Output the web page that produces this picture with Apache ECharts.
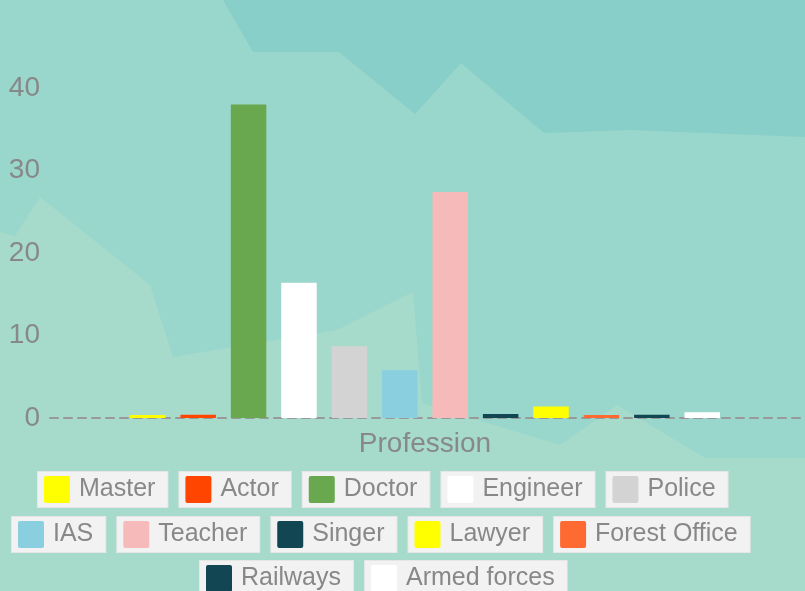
<!DOCTYPE html>
<html>
<head>
<meta charset="utf-8">
<script src="https://cdn.jsdelivr.net/npm/echarts@6/dist/echarts.min.js"></script>
<style>
  html, body { margin: 0; padding: 0; }
  #chart { width: 805px; height: 591px; }
</style>
</head>
<body>
<div id="chart"></div>
<script>
const categories = ['Profession'];
const professions = ['Master', 'Actor', 'Doctor', 'Engineer', 'Police', 'IAS', 'Teacher', 'Singer', 'Lawyer', 'Forest Office', 'Railways', 'Armed forces'];
const values = [0.35, 0.4, 38, 16.4, 8.7, 5.8, 27.4, 0.5, 1.4, 0.35, 0.4, 0.7];
const colors = ['#ffff00', '#ff4500', '#6aa84f', '#ffffff', '#d3d3d3', '#89cfe0', '#f7baba', '#124652', '#ffff00', '#ff6a33', '#124652', '#ffffff'];
const yTicks = [0, 10, 20, 30, 40];
// legend rows as they wrap in the picture
const legendRows = [
  ['Master', 'Actor', 'Doctor', 'Engineer', 'Police'],
  ['IAS', 'Teacher', 'Singer', 'Lawyer', 'Forest Office'],
  ['Railways', 'Armed forces']
];

var chartDom = document.getElementById('chart');
var myChart = echarts.init(chartDom);

// legend swatches drawn as rich text so the grey box wraps swatch + name
let rich = { t: { fontSize: 25, color: '#888', padding: [0, 0, 0, 9], lineHeight: 27 } };
colors.forEach(function (c, i) {
  rich['i' + i] = { width: 26, height: 27, backgroundColor: c, borderRadius: 2 };
});

let series = professions.map(function (name, i) {
  return {
    name: name,
    type: 'bar',
    barWidth: 35.5,
    barGap: '42%',
    itemStyle: { color: colors[i] },
    data: [values[i]]
  };
});

let legends = legendRows.map(function (row, r) {
  return {
    top: [466, 511, 555][r],
    left: [28, 2, 190][r],
    itemGap: 6,
    itemWidth: 0,
    itemHeight: 0,
    itemStyle: { opacity: 0 },
    data: row,
    formatter: function (name) {
      return '{i' + professions.indexOf(name) + '|}{t|' + name + '}';
    },
    textStyle: {
      fontFamily: 'Liberation Sans',
      fontSize: 25,
      color: '#888',
      backgroundColor: '#f2f2f2',
      borderColor: '#e6e6e6',
      borderWidth: 1,
      padding: [4, 12, 4, 6],
      rich: rich
    }
  };
});

var option = {
  backgroundColor: '#99d6cb',
  graphic: [
    {
      type: 'polygon', z: -10, silent: true,
      shape: { points: [[223, 0], [253, 52], [339, 52], [415, 114], [461, 63], [544, 133], [631, 130], [805, 137], [805, 0]] },
      style: { fill: '#87cfc8' }
    },
    {
      type: 'polygon', z: -10, silent: true,
      shape: { points: [[0, 232], [15, 236], [40, 197], [150, 285], [173, 357], [337, 330], [413, 292], [422, 403], [560, 445], [617, 405], [705, 458], [805, 458], [805, 591], [0, 591]] },
      style: { fill: '#a6dbcb' }
    }
  ],
  grid: { left: 50, right: 5, top: 88, bottom: 173 },
  xAxis: {
    type: 'category',
    data: categories,
    axisLine: { lineStyle: { color: '#999', width: 2, type: [8, 6] } },
    axisTick: { show: false },
    axisLabel: { fontSize: 28, color: '#888', margin: 12, fontFamily: 'Liberation Sans' }
  },
  yAxis: {
    type: 'value',
    min: yTicks[0],
    max: yTicks[yTicks.length - 1],
    interval: 10,
    axisLine: { show: false },
    axisTick: { show: false },
    splitLine: { show: false },
    axisLabel: { fontSize: 28, color: '#888', margin: 10, fontFamily: 'Liberation Sans' }
  },
  legend: legends,
  series: series
};

option && myChart.setOption(option);
</script>
</body>
</html>
